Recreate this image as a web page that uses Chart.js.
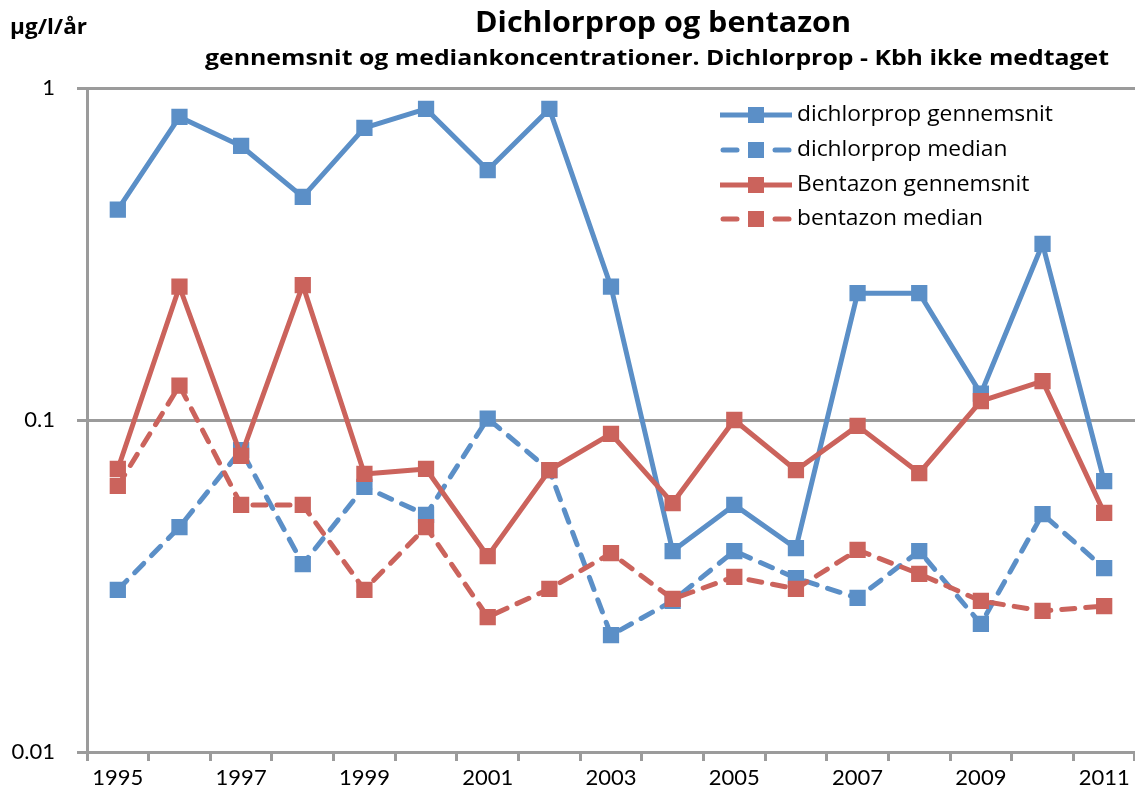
<!DOCTYPE html>
<html>
<head>
<meta charset="utf-8">
<script src="https://cdn.jsdelivr.net/npm/chart.js@4/dist/chart.umd.min.js"></script>
<style>
html,body{margin:0;padding:0;background:#fff;}
#wrap{width:1135px;height:798px;}
</style>
</head>
<body>
<div id="wrap"><canvas id="c" width="1135" height="798"></canvas></div>
<script>
const years = ['1995','1996','1997','1998','1999','2000','2001','2002','2003','2004','2005','2006','2007','2008','2009','2010','2011'];
const dichlorpropMean   = [0.43,0.818,0.669,0.47,0.758,0.865,0.566,0.865,0.252,0.0403,0.0555,0.0411,0.241,0.241,0.12,0.339,0.0655];
const dichlorpropMedian = [0.0308,0.0476,0.0812,0.0368,0.0629,0.0518,0.101,0.0706,0.0225,0.0285,0.0403,0.0334,0.0291,0.0403,0.0243,0.0521,0.0358];
const bentazonMean      = [0.0712,0.252,0.078,0.255,0.0688,0.0712,0.0389,0.0706,0.0908,0.0562,0.1,0.0706,0.096,0.0692,0.114,0.131,0.0525];
const bentazonMedian    = [0.0633,0.127,0.0555,0.0555,0.0308,0.0476,0.0255,0.031,0.0397,0.0289,0.0337,0.031,0.0406,0.0344,0.0285,0.0266,0.0275];
const yTicks = [0.01, 0.1, 1];
const seriesNames = ['dichlorprop gennemsnit','dichlorprop median','Bentazon gennemsnit','bentazon median'];

const BLUE = '#5B8FC7';
const RED = '#CB635C';
const GRAY = '#9B9B9B';
const FONT = 'Lato, "Open Sans", sans-serif';
const TFONT = '"Open Sans", Lato, sans-serif';

function ds(label, data, color, dashed, order) {
  return {
    label, data,
    borderColor: color, backgroundColor: color,
    borderWidth: 5,
    borderDash: dashed ? [13, 11] : [],
    borderCapStyle: dashed ? 'round' : 'butt',
    borderJoinStyle: 'round',
    pointStyle: 'rect', pointRadius: 11.5, pointHoverRadius: 11.5,
    pointBorderWidth: 0,
    tension: 0, order,
    _dashed: dashed
  };
}

function fitText(ctx, text, x, y, width, align) {
  const w = ctx.measureText(text).width;
  const s = width / w;
  ctx.save();
  ctx.translate(x, y);
  ctx.scale(s, 1);
  ctx.textAlign = align;
  ctx.fillText(text, 0, 0);
  ctx.restore();
}

const textPlugin = {
  id: 'texts',
  afterDraw(chart) {
    const ctx = chart.ctx;
    ctx.save();
    ctx.fillStyle = '#000';
    ctx.textBaseline = 'middle';
    ctx.font = 'bold 21px ' + TFONT;
    fitText(ctx, 'µg/l/år', 10, 28, 77, 'left');
    ctx.font = 'bold 29px ' + TFONT;
    fitText(ctx, 'Dichlorprop og bentazon', 663, 24, 376, 'center');
    ctx.font = 'bold 21px ' + TFONT;
    fitText(ctx, 'gennemsnit og mediankoncentrationer. Dichlorprop - Kbh ikke medtaget', 657, 59, 904, 'center');

    const rows = [115, 150, 185, 219];
    ctx.font = '21px ' + TFONT;
    const legScale = 256 / ctx.measureText(seriesNames[0]).width;
    chart.data.datasets.forEach((d, i) => {
      const y = rows[i];
      ctx.strokeStyle = d.borderColor;
      ctx.fillStyle = d.borderColor;
      ctx.lineWidth = 5;
      ctx.setLineDash([]);
      if (d._dashed) {
        ctx.lineCap = 'round';
        ctx.beginPath(); ctx.moveTo(723, y); ctx.lineTo(737, y); ctx.stroke();
        ctx.beginPath(); ctx.moveTo(775, y); ctx.lineTo(789, y); ctx.stroke();
      } else {
        ctx.lineCap = 'butt';
        ctx.beginPath(); ctx.moveTo(720, y); ctx.lineTo(792, y); ctx.stroke();
      }
      ctx.fillRect(756 - 8, y - 8, 16, 16);
      ctx.fillStyle = '#000';
      const w = ctx.measureText(d.label).width * legScale;
      fitText(ctx, d.label, 797, y, w, 'left');
    });
    ctx.restore();
  }
};

new Chart(document.getElementById('c'), {
  type: 'line',
  data: {
    labels: years,
    datasets: [
      ds(seriesNames[0], dichlorpropMean, BLUE, false, 3),
      ds(seriesNames[1], dichlorpropMedian, BLUE, true, 2),
      ds(seriesNames[2], bentazonMean, RED, false, 1),
      ds(seriesNames[3], bentazonMedian, RED, true, 0)
    ]
  },
  options: {
    responsive: false,
    animation: false,
    layout: { autoPadding: false, padding: { top: 88, left: 0, right: 0, bottom: 0 } },
    plugins: { legend: { display: false }, title: { display: false }, tooltip: { enabled: false } },
    scales: {
      x: {
        type: 'category',
        offset: true,
        grid: { display: true, offset: true, drawOnChartArea: false, drawTicks: true, tickLength: 9, color: GRAY, lineWidth: 3 },
        border: { display: true, color: GRAY, width: 3 },
        ticks: {
          autoSkip: false, maxRotation: 0, minRotation: 0, padding: 4,
          color: '#000', font: { family: FONT, size: 22 },
          callback: function(v, i) { return i % 2 === 0 ? years[i] : ''; }
        },
        afterFit(scale) { scale.height = 46; scale.paddingRight = 0; scale.paddingLeft = 0; }
      },
      y: {
        type: 'logarithmic',
        min: 0.01, max: 1,
        afterBuildTicks(scale) { scale.ticks = yTicks.map(v => ({ value: v, major: true })); },
        grid: { color: GRAY, lineWidth: 3, drawTicks: true, tickLength: 10 },
        border: { display: true, color: GRAY, width: 3 },
        ticks: {
          color: '#000', padding: 22, font: { family: FONT, size: 22 },
          callback: function(v) { return String(v); }
        },
        afterFit(scale) { scale.width = 87; scale.paddingTop = 0; scale.paddingBottom = 0; }
      }
    }
  },
  plugins: [textPlugin]
});
</script>
</body>
</html>
